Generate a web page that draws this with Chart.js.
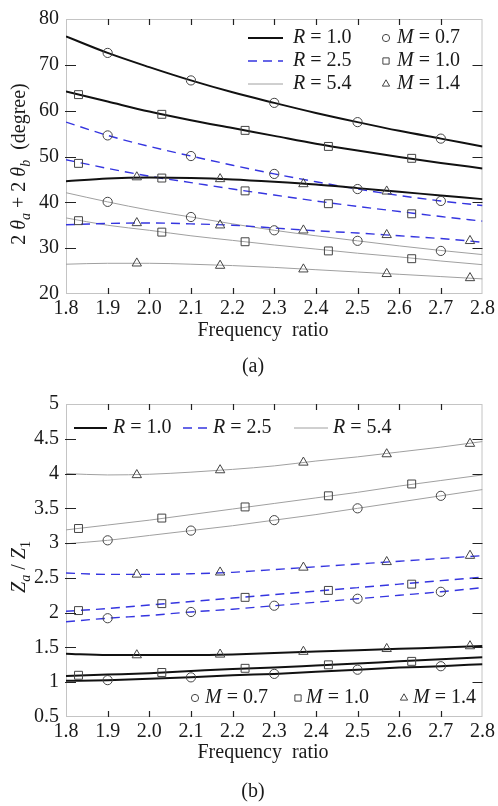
<!DOCTYPE html>
<html>
<head>
<meta charset="utf-8">
<script src="https://cdn.jsdelivr.net/npm/chart.js@4.4.1/dist/chart.umd.min.js"></script>
<style>
html, body { margin: 0; padding: 0; background: #fff; }
#wrap { position: relative; width: 498px; height: 806px; }
canvas { position: absolute; left: 0; }
</style>
</head>
<body>
<div id="wrap">
  <canvas id="chartA" width="498" height="385" style="top:0"></canvas>
  <canvas id="chartB" width="498" height="421" style="top:385px"></canvas>
</div>
<script>
// shared axis values
const freqGrid = [1.8, 1.9, 2.0, 2.1, 2.2, 2.3, 2.4, 2.5, 2.6, 2.7, 2.8];
const freqTicks = [1.8, 1.9, 2.0, 2.1, 2.2, 2.3, 2.4, 2.5, 2.6, 2.7, 2.8];
const angleTicks = [20, 30, 40, 50, 60, 70, 80];
const ratioTicks = [0.5, 1, 1.5, 2, 2.5, 3, 3.5, 4, 4.5, 5];

// marker positions on the frequency axis
const circleX = [1.9, 2.1, 2.3, 2.5, 2.7];      // M = 0.7
const squareX = [1.83, 2.03, 2.23, 2.43, 2.63]; // M = 1.0
const triangleX = [1.97, 2.17, 2.37, 2.57, 2.77]; // M = 1.4

// (a) 2θa + 2θb in degrees, curves on freqGrid
const angleR10M07 = [76.2, 72.6, 69.5, 66.6, 64.0, 61.7, 59.5, 57.5, 55.6, 53.9, 52.2];
const angleR10M10 = [64.2, 62.0, 59.8, 57.9, 56.2, 54.5, 52.8, 51.3, 49.9, 48.6, 47.4];
const angleR10M14 = [44.6, 45.2, 45.4, 45.3, 45.0, 44.5, 43.9, 43.1, 42.3, 41.5, 40.7];
const angleR25M07 = [57.5, 54.6, 52.2, 50.1, 48.1, 46.2, 44.5, 42.9, 41.5, 40.3, 39.3];
const angleR25M10 = [49.3, 47.4, 45.7, 44.3, 42.9, 41.6, 40.3, 39.1, 38.0, 36.9, 35.9];
const angleR25M14 = [35.1, 35.4, 35.5, 35.3, 35.0, 34.4, 33.8, 33.3, 32.7, 32.1, 31.3];
const angleR54M07 = [42.1, 40.1, 38.3, 36.8, 35.3, 33.9, 32.7, 31.6, 30.5, 29.5, 28.6];
const angleR54M10 = [36.6, 35.0, 33.9, 32.7, 31.7, 30.7, 29.8, 28.9, 28.1, 27.2, 26.4];
const angleR54M14 = [26.5, 26.7, 26.7, 26.5, 26.2, 25.8, 25.3, 24.8, 24.3, 23.8, 23.3];

// (a) marker values
const angleR10M07Marks = [72.6, 66.6, 61.7, 57.5, 53.9];
const angleR10M10Marks = [63.5, 59.2, 55.7, 52.2, 49.6];
const angleR10M14Marks = [45.5, 45.1, 44.0, 42.4];
const angleR25M07Marks = [54.6, 50.1, 46.2, 42.9, 40.3];
const angleR25M10Marks = [48.5, 45.3, 42.5, 39.7, 37.5];
const angleR25M14Marks = [35.5, 35.0, 33.9, 32.9, 31.6];
const angleR54M07Marks = [40.1, 36.8, 33.9, 31.6, 29.4];
const angleR54M10Marks = [36.0, 33.5, 31.4, 29.4, 27.7];
const angleR54M14Marks = [26.7, 26.2, 25.4, 24.4, 23.5];

// (b) Za / Z1, curves on freqGrid
const ratioR10M07 = [1.02, 1.03, 1.05, 1.07, 1.10, 1.12, 1.15, 1.18, 1.21, 1.23, 1.26];
const ratioR10M10 = [1.09, 1.11, 1.13, 1.16, 1.19, 1.21, 1.24, 1.27, 1.30, 1.33, 1.36];
const ratioR10M14 = [1.41, 1.39, 1.39, 1.39, 1.40, 1.42, 1.44, 1.46, 1.48, 1.50, 1.52];
const ratioR25M07 = [1.87, 1.92, 1.96, 2.01, 2.05, 2.10, 2.15, 2.20, 2.25, 2.30, 2.36];
const ratioR25M10 = [2.02, 2.06, 2.11, 2.16, 2.21, 2.26, 2.31, 2.36, 2.41, 2.46, 2.51];
const ratioR25M14 = [2.57, 2.55, 2.55, 2.56, 2.58, 2.62, 2.66, 2.70, 2.74, 2.78, 2.82];
const ratioR54M07 = [2.99, 3.04, 3.11, 3.18, 3.25, 3.33, 3.41, 3.50, 3.59, 3.68, 3.77];
const ratioR54M10 = [3.19, 3.26, 3.33, 3.41, 3.49, 3.57, 3.65, 3.73, 3.82, 3.90, 3.98];
const ratioR54M14 = [4.00, 3.98, 3.99, 4.02, 4.06, 4.11, 4.18, 4.24, 4.31, 4.38, 4.46];

// (b) marker values
const ratioR10M07Marks = [1.03, 1.07, 1.12, 1.18, 1.23];
const ratioR10M10Marks = [1.10, 1.14, 1.20, 1.25, 1.30];
const ratioR10M14Marks = [1.39, 1.40, 1.44, 1.48, 1.52];
const ratioR25M07Marks = [1.92, 2.01, 2.10, 2.20, 2.30];
const ratioR25M10Marks = [2.03, 2.13, 2.22, 2.32, 2.41];
const ratioR25M14Marks = [2.55, 2.58, 2.65, 2.73, 2.82];
const ratioR54M07Marks = [3.04, 3.18, 3.33, 3.50, 3.68];
const ratioR54M10Marks = [3.21, 3.36, 3.52, 3.68, 3.85];
const ratioR54M14Marks = [3.98, 4.05, 4.16, 4.28, 4.43];

const FONT = '"Liberation Serif", "Times New Roman", serif';
const TEXT = '#1a1a1a';
const lineStyles = {
    r10: { color: '#111111', width: 2, dash: [] },
    r25: { color: '#3535e0', width: 1.4, dash: [9, 6] },
    r54: { color: '#a0a0a0', width: 1, dash: [] }
};
const markStyles = {
    circle: { style: 'circle', radius: 4.6 },
    rect: { style: 'rect', radius: 5.6 },
    triangle: { style: 'triangle', radius: 5.4 }
};

function lineSet(values, key) {
    const s = lineStyles[key];
    return {
        data: freqGrid.map((x, i) => ({ x: x, y: values[i] })),
        borderColor: s.color,
        borderWidth: s.width,
        borderDash: s.dash,
        pointRadius: 0,
        cubicInterpolationMode: 'monotone',
        fill: false,
        order: 2
    };
}

function markSet(xs, values, key) {
    const m = markStyles[key];
    return {
        data: values.map((v, i) => ({ x: xs[i], y: v })),
        showLine: false,
        pointStyle: m.style,
        pointRadius: m.radius,
        pointBorderColor: '#444',
        pointBorderWidth: 1,
        pointBackgroundColor: 'rgba(0,0,0,0)',
        order: 1
    };
}

// draws text pieces one after another: n normal, i italic, sn/si subscript
function drawParts(ctx, parts, x, y, measureOnly) {
    let cx = x;
    for (const [t, s] of parts) {
        const sub = s[0] === 's';
        const italic = s[s.length - 1] === 'i';
        ctx.font = (italic ? 'italic ' : '') + (sub ? 14 : 20) + 'px ' + FONT;
        if (!measureOnly) ctx.fillText(t, cx, y + (sub ? 6 : 0));
        cx += ctx.measureText(t).width;
    }
    return cx - x;
}

function drawMarker(ctx, style, radius, x, y) {
    ctx.save();
    ctx.strokeStyle = '#444';
    ctx.fillStyle = 'rgba(0,0,0,0)';
    ctx.lineWidth = 1;
    Chart.helpers.drawPoint(ctx, { pointStyle: style, radius: radius, rotation: 0, borderWidth: 1 }, x, y);
    ctx.restore();
}

function drawLegendLine(ctx, key, x1, x2, y) {
    const s = lineStyles[key];
    ctx.save();
    ctx.strokeStyle = s.color;
    ctx.lineWidth = s.width;
    ctx.setLineDash(s.dash);
    ctx.beginPath();
    ctx.moveTo(x1, y);
    ctx.lineTo(x2, y);
    ctx.stroke();
    ctx.restore();
}

const frameTicks = {
    id: 'frameTicks',
    beforeDatasetsDraw(chart) {
        const { ctx, chartArea: a } = chart;
        ctx.save();
        ctx.strokeStyle = '#c4c4c4';
        ctx.lineWidth = 1;
        ctx.strokeRect(a.left + 0.5, a.top + 0.5, a.right - a.left - 1, a.bottom - a.top - 1);
        ctx.restore();
    },
    afterDatasetsDraw(chart) {
        const { ctx, chartArea: a, scales } = chart;
        ctx.save();
        ctx.strokeStyle = '#222';
        ctx.lineWidth = 1.2;
        ctx.beginPath();
        scales.x.ticks.slice(1, -1).forEach(t => {
            const px = Math.round(scales.x.getPixelForValue(t.value)) + 0.5;
            ctx.moveTo(px, a.bottom); ctx.lineTo(px, a.bottom - 6);
            ctx.moveTo(px, a.top); ctx.lineTo(px, a.top + 6);
        });
        scales.y.ticks.slice(1, -1).forEach(t => {
            const py = Math.round(scales.y.getPixelForValue(t.value)) + 0.5;
            ctx.moveTo(a.left - 1, py); ctx.lineTo(a.left + 10, py);
            ctx.moveTo(a.right, py); ctx.lineTo(a.right - 10, py);
        });
        ctx.stroke();
        ctx.restore();
    }
};

function axisOptions(ticksList, min, max, fmt, fitKey, fitSize, pad) {
    return {
        type: 'linear',
        min: min,
        max: max,
        grid: { display: false, drawTicks: false },
        border: { display: false },
        ticks: {
            color: TEXT,
            font: { family: FONT, size: 20 },
            padding: pad,
            autoSkip: false,
            maxRotation: 0,
            callback: fmt
        },
        afterBuildTicks: s => { s.ticks = ticksList.map(v => ({ value: v })); },
        afterFit: s => { s[fitKey] = fitSize; }
    };
}

function baseOptions(yTicks, yMin, yMax, topPad, bottomSize) {
    return {
        responsive: false,
        animation: false,
        devicePixelRatio: 1,
        layout: { padding: { left: 0, right: 13, top: topPad, bottom: 0 } },
        plugins: { legend: { display: false }, tooltip: { enabled: false } },
        scales: {
            x: axisOptions(freqTicks, 1.8, 2.8, v => v.toFixed(1), 'height', bottomSize, 3),
            y: axisOptions(yTicks, yMin, yMax, v => String(v), 'width', 66, 7)
        }
    };
}

const textA = {
    id: 'textA',
    afterDraw(chart) {
        const ctx = chart.ctx;
        ctx.save();
        ctx.fillStyle = TEXT;
        ctx.textBaseline = 'middle';
        ctx.textAlign = 'left';
        // legend: line styles
        const rows = [['r10', '1.0', 38], ['r25', '2.5', 61], ['r54', '5.4', 84]];
        rows.forEach(([k, v, y]) => {
            drawLegendLine(ctx, k, 248, 283, y);
            drawParts(ctx, [['R', 'i'], [' = ' + v, 'n']], 293, y);
        });
        // legend: markers
        const mrows = [['circle', 3.6, '0.7', 38], ['rect', 4.4, '1.0', 61], ['triangle', 4.2, '1.4', 84]];
        mrows.forEach(([st, r, v, y]) => {
            drawMarker(ctx, st, r, 386, y);
            drawParts(ctx, [['M', 'i'], [' = ' + v, 'n']], 397, y);
        });
        // axis titles
        ctx.textAlign = 'center';
        ctx.font = '20px ' + FONT;
        ctx.fillText('Frequency  ratio', 263, 331);
        ctx.fillText('(a)', 253, 367);
        ctx.textAlign = 'left';
        const yParts = [['2 ', 'n'], ['θ', 'i'], ['a', 'si'], [' + 2 ', 'n'], ['θ', 'i'], ['b', 'si'], ['  (degree)', 'n']];
        const w = drawParts(ctx, yParts, 0, 0, true);
        ctx.translate(20, 164);
        ctx.rotate(-Math.PI / 2);
        drawParts(ctx, yParts, -w / 2, 0);
        ctx.restore();
    }
};

const textB = {
    id: 'textB',
    afterDraw(chart) {
        const ctx = chart.ctx;
        ctx.save();
        ctx.fillStyle = TEXT;
        ctx.textBaseline = 'middle';
        ctx.textAlign = 'left';
        drawLegendLine(ctx, 'r10', 74, 107, 43);
        drawParts(ctx, [['R', 'i'], [' = 1.0', 'n']], 113, 43);
        drawLegendLine(ctx, 'r25', 183, 210, 43);
        drawParts(ctx, [['R', 'i'], [' = 2.5', 'n']], 213, 43);
        drawLegendLine(ctx, 'r54', 294, 328, 43);
        drawParts(ctx, [['R', 'i'], [' = 5.4', 'n']], 333, 43);
        drawMarker(ctx, 'circle', 3.6, 195, 313);
        drawParts(ctx, [['M', 'i'], [' = 0.7', 'n']], 205, 313);
        drawMarker(ctx, 'rect', 4.4, 298, 313);
        drawParts(ctx, [['M', 'i'], [' = 1.0', 'n']], 306, 313);
        drawMarker(ctx, 'triangle', 4.2, 404, 313);
        drawParts(ctx, [['M', 'i'], [' = 1.4', 'n']], 413, 313);
        ctx.textAlign = 'center';
        ctx.font = '20px ' + FONT;
        ctx.fillText('Frequency  ratio', 263, 368);
        ctx.fillText('(b)', 253, 407);
        ctx.textAlign = 'left';
        const yParts = [['Z', 'i'], ['a', 'si'], [' / ', 'n'], ['Z', 'i'], ['1', 'sn']];
        const w = drawParts(ctx, yParts, 0, 0, true);
        ctx.translate(20, 182);
        ctx.rotate(-Math.PI / 2);
        drawParts(ctx, yParts, -w / 2, 0);
        ctx.restore();
    }
};

new Chart(document.getElementById('chartA'), {
    type: 'line',
    data: {
        datasets: [
            lineSet(angleR10M07, 'r10'), lineSet(angleR10M10, 'r10'), lineSet(angleR10M14, 'r10'),
            lineSet(angleR25M07, 'r25'), lineSet(angleR25M10, 'r25'), lineSet(angleR25M14, 'r25'),
            lineSet(angleR54M07, 'r54'), lineSet(angleR54M10, 'r54'), lineSet(angleR54M14, 'r54'),
            markSet(circleX, angleR10M07Marks, 'circle'),
            markSet(squareX, angleR10M10Marks, 'rect'),
            markSet(triangleX, angleR10M14Marks, 'triangle'),
            markSet(circleX, angleR25M07Marks, 'circle'),
            markSet(squareX, angleR25M10Marks, 'rect'),
            markSet(triangleX, angleR25M14Marks, 'triangle'),
            markSet(circleX, angleR54M07Marks, 'circle'),
            markSet(squareX, angleR54M10Marks, 'rect'),
            markSet(triangleX, angleR54M14Marks, 'triangle')
        ]
    },
    options: baseOptions(angleTicks, 20, 80, 14, 91),
    plugins: [frameTicks, textA]
});

new Chart(document.getElementById('chartB'), {
    type: 'line',
    data: {
        datasets: [
            lineSet(ratioR10M07, 'r10'), lineSet(ratioR10M10, 'r10'), lineSet(ratioR10M14, 'r10'),
            lineSet(ratioR25M07, 'r25'), lineSet(ratioR25M10, 'r25'), lineSet(ratioR25M14, 'r25'),
            lineSet(ratioR54M07, 'r54'), lineSet(ratioR54M10, 'r54'), lineSet(ratioR54M14, 'r54'),
            markSet(circleX, ratioR10M07Marks, 'circle'),
            markSet(squareX, ratioR10M10Marks, 'rect'),
            markSet(triangleX, ratioR10M14Marks, 'triangle'),
            markSet(circleX, ratioR25M07Marks, 'circle'),
            markSet(squareX, ratioR25M10Marks, 'rect'),
            markSet(triangleX, ratioR25M14Marks, 'triangle'),
            markSet(circleX, ratioR54M07Marks, 'circle'),
            markSet(squareX, ratioR54M10Marks, 'rect'),
            markSet(triangleX, ratioR54M14Marks, 'triangle')
        ]
    },
    options: baseOptions(ratioTicks, 0.5, 5, 19, 89),
    plugins: [frameTicks, textB]
});
</script>
</body>
</html>
